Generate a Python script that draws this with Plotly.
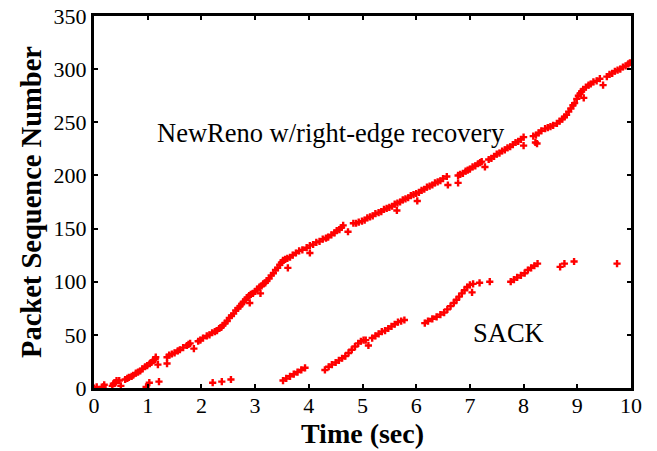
import plotly.graph_objects as go

# NewReno w/right-edge recovery: (time sec, packet sequence number)
newreno_time = [
    0.00, 0.05, 0.17, 0.19, 0.34, 0.36, 0.40, 0.42, 0.47, 0.50, 0.58, 0.62, 0.65, 0.70, 0.73, 0.78,
    0.82, 0.86, 0.90, 0.95, 0.99, 1.04, 1.07, 1.10, 1.14, 1.15, 1.19,
    1.36, 1.36, 1.40, 1.45, 1.50, 1.56, 1.60, 1.66, 1.73, 1.76, 1.79, 1.86, 1.94, 1.98, 2.03, 2.10,
    2.15, 2.20, 2.25, 2.29, 2.33, 2.37, 2.40, 2.44, 2.48, 2.52, 2.56, 2.60, 2.64, 2.68, 2.72, 2.75,
    2.78, 2.82, 2.85, 2.89, 2.90, 2.92, 2.96, 3.00, 3.04, 3.08, 3.10, 3.12, 3.15, 3.19, 3.22, 3.26,
    3.30, 3.34, 3.38, 3.42, 3.46, 3.49, 3.52, 3.56, 3.60, 3.61, 3.65, 3.70, 3.76, 3.82, 3.88, 3.96,
    4.02, 4.02, 4.08, 4.14, 4.20, 4.26, 4.32, 4.36, 4.42, 4.48, 4.52, 4.57, 4.61, 4.64, 4.73,
    4.83, 4.88, 4.93, 4.99, 5.04, 5.09, 5.14, 5.19, 5.24, 5.30, 5.35, 5.40, 5.45, 5.50, 5.55, 5.60,
    5.64, 5.65, 5.70, 5.75, 5.80, 5.85, 5.90, 5.95, 6.00, 6.02, 6.05, 6.10, 6.15, 6.20, 6.25, 6.30,
    6.35, 6.40, 6.45, 6.50, 6.57, 6.59,
    6.78, 6.78, 6.82, 6.87, 6.92, 6.96, 7.00, 7.05, 7.10, 7.15, 7.19, 7.22, 7.28,
    7.35, 7.40, 7.45, 7.50, 7.55, 7.60, 7.65, 7.70, 7.75, 7.80, 7.85, 7.90, 7.95, 8.00, 8.00,
    8.18, 8.22, 8.23, 8.25, 8.28, 8.33, 8.40, 8.45, 8.50, 8.55, 8.62, 8.67, 8.72, 8.76, 8.80, 8.84,
    8.88, 8.92, 8.95, 8.99, 9.02, 9.05, 9.08, 9.11, 9.12, 9.16, 9.21, 9.25, 9.30, 9.36, 9.42, 9.48,
    9.55, 9.60, 9.65, 9.70, 9.75, 9.80, 9.85, 9.90, 9.95, 9.98,
]
newreno_seq = [
    0, 1, 1, 3, 2, 4, 5, 7, 7, 2, 8, 9, 10, 11, 12, 14,
    15, 16, 18, 20, 21, 23, 24, 26, 27, 29, 22,
    29, 23, 31, 32, 33, 35, 36, 38, 40, 41, 42, 37, 44, 45, 47, 49,
    50, 52, 53, 54, 56, 57, 59, 61, 63, 66, 68, 70, 73, 75, 77, 79,
    81, 83, 85, 87, 80, 88, 89, 91, 93, 95, 89, 96, 98, 99, 101, 103,
    106, 108, 111, 113, 116, 118, 120, 121, 122, 113, 123, 125, 127, 129, 130, 132,
    134, 127, 135, 137, 138, 140, 141, 142, 144, 146, 148, 149, 151, 153, 147,
    155, 155, 156, 157, 158, 160, 161, 162, 164, 165, 166, 168, 169, 170, 171, 173,
    167, 174, 175, 177, 178, 179, 181, 182, 183, 176, 184, 186, 187, 189, 190, 191,
    193, 194, 195, 197, 199, 191,
    200, 193, 201, 202, 204, 205, 206, 208, 209, 211, 212, 213, 208,
    215, 216, 218, 220, 221, 223, 224, 226, 227, 229, 231, 232, 234, 236, 228,
    237, 231, 238, 230, 240, 242, 244, 245, 246, 247, 249, 251, 253, 255, 257, 260,
    263, 266, 268, 272, 275, 277, 279, 281, 273, 283, 285, 286, 288, 289, 291, 285,
    293, 295, 296, 298, 299, 300, 302, 303, 305, 306,
]

# SACK
sack_time = [
    0.97, 1.03, 1.21, 2.21, 2.38, 2.55,
    3.52, 3.58, 3.65, 3.72, 3.79, 3.86, 3.93,
    4.30, 4.37, 4.43, 4.50, 4.56, 4.62, 4.68, 4.74, 4.80, 4.86, 4.92, 4.97, 5.02, 5.06, 5.11,
    5.18, 5.24, 5.30, 5.36, 5.42, 5.48, 5.54, 5.60, 5.66, 5.72, 5.78,
    6.16, 6.22, 6.30, 6.38, 6.45, 6.52, 6.58, 6.64, 6.70, 6.75, 6.80, 6.85, 6.90, 6.95, 7.00, 7.04,
    7.06, 7.18, 7.37,
    7.76, 7.82, 7.88, 7.95, 8.02, 8.08, 8.14, 8.20, 8.26,
    8.68, 8.76, 8.94, 9.74,
]
sack_seq = [
    1, 5, 6, 5, 6, 8,
    7, 9, 11, 13, 15, 17, 19,
    17, 20, 22, 24, 26, 28, 30, 33, 36, 39, 42, 44, 45, 45, 40,
    47, 49, 51, 53, 54, 56, 58, 60, 62, 63, 64,
    61, 63, 65, 67, 69, 71, 74, 77, 80, 83, 86, 89, 92, 95, 97, 90,
    98, 99, 100,
    100, 102, 104, 106, 108, 111, 113, 115, 117,
    114, 117, 119, 117,
]

x_ticks = [0, 1, 2, 3, 4, 5, 6, 7, 8, 9, 10]
y_ticks = [0, 50, 100, 150, 200, 250, 300, 350]

FONT = "Liberation Serif, Times New Roman, serif"
RED = "#ff0000"

fig = go.Figure()
marker = dict(symbol="cross", size=6, color=RED, line=dict(width=0))
fig.add_trace(go.Scatter(x=newreno_time, y=newreno_seq, mode="markers",
                         marker=marker, name="NewReno w/right-edge recovery"))
fig.add_trace(go.Scatter(x=sack_time, y=sack_seq, mode="markers",
                         marker=marker, name="SACK"))

fig.add_annotation(x=4.42, y=240, text="NewReno w/right-edge recovery", showarrow=False,
                   font=dict(family=FONT, size=26.5, color="black"))
fig.add_annotation(x=7.71, y=52, text="SACK", showarrow=False,
                   font=dict(family=FONT, size=26.5, color="black"))

axis_common = dict(showline=True, linewidth=3, linecolor="black", mirror="ticks",
                   ticks="inside", ticklen=4, tickwidth=2, tickcolor="black",
                   showgrid=False, zeroline=False, automargin=False,
                   tickfont=dict(family=FONT, size=22, color="black"))

fig.update_xaxes(range=[0, 10], tickvals=x_ticks, ticktext=[str(v) for v in x_ticks],
                 ticklabelstandoff=-4,
                 title=dict(text="<b>Time (sec)</b>", font=dict(family=FONT, size=28, color="black"),
                            standoff=4),
                 **axis_common)
fig.update_yaxes(range=[0, 350], tickvals=y_ticks, ticktext=[str(v) for v in y_ticks],
                 title=dict(text="<b>Packet Sequence Number</b>",
                            font=dict(family=FONT, size=28.5, color="black"), standoff=4),
                 **axis_common)

fig.update_layout(width=657, height=451, margin=dict(l=94, r=26, t=16, b=63),
                  paper_bgcolor="white", plot_bgcolor="white", showlegend=False)

fig.write_html("out.html")
